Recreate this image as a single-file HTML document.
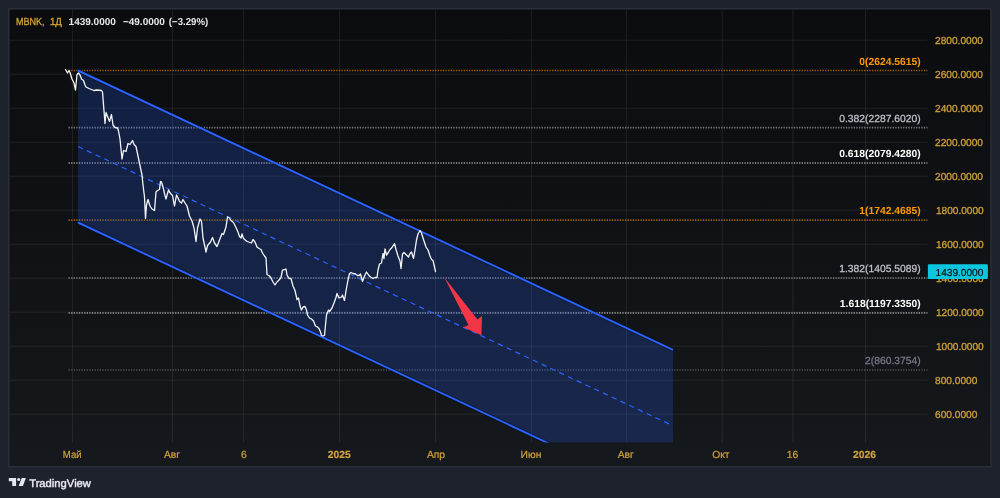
<!DOCTYPE html>
<html><head><meta charset="utf-8"><title>MBNK chart</title>
<style>
html,body{margin:0;padding:0;background:#1e222d;width:1000px;height:498px;overflow:hidden;font-family:"Liberation Sans",sans-serif;}
</style></head><body>
<svg width="1000" height="498" viewBox="0 0 1000 498" style="display:block;position:absolute;left:0;top:0;will-change:transform;text-rendering:geometricPrecision">
<defs><linearGradient id="bg" x1="0" y1="0" x2="0" y2="1"><stop offset="0" stop-color="#0a0c0e"/><stop offset="1" stop-color="#15181c"/></linearGradient>
<clipPath id="plot"><rect x="9.5" y="9.5" width="918.0" height="433.0"/></clipPath></defs>
<rect x="0" y="0" width="1000" height="498" fill="#1e222d"/>
<rect x="8.75" y="8.75" width="982.25" height="458" fill="url(#bg)" stroke="#2a2e39" stroke-width="1.5"/>
<g stroke="#ffffff" stroke-opacity="0.08" stroke-width="1" fill="none">
<path d="M9.5 40.20H927.5"/>
<path d="M9.5 74.20H927.5"/>
<path d="M9.5 108.20H927.5"/>
<path d="M9.5 142.20H927.5"/>
<path d="M9.5 176.20H927.5"/>
<path d="M9.5 210.20H927.5"/>
<path d="M9.5 244.20H927.5"/>
<path d="M9.5 278.20H927.5"/>
<path d="M9.5 312.20H927.5"/>
<path d="M9.5 346.20H927.5"/>
<path d="M9.5 380.20H927.5"/>
<path d="M9.5 414.20H927.5"/>
<path d="M72.6 9.5V442.5"/>
<path d="M172.5 9.5V442.5"/>
<path d="M243.7 9.5V442.5"/>
<path d="M339.5 9.5V442.5"/>
<path d="M435.5 9.5V442.5"/>
<path d="M531.4 9.5V442.5"/>
<path d="M626.4 9.5V442.5"/>
<path d="M722.2 9.5V442.5"/>
<path d="M793 9.5V442.5"/>
<path d="M865.5 9.5V442.5"/>
</g>
<path d="M68.5 70.50H927.5" stroke="#ff9800" stroke-width="1.6" stroke-dasharray="1.3 1.3" stroke-opacity="0.6" fill="none"/>
<path d="M68.5 127.60H927.5" stroke="#c2c4cc" stroke-width="1.6" stroke-dasharray="1.3 1.3" stroke-opacity="0.58" fill="none"/>
<path d="M68.5 163.00H927.5" stroke="#ffffff" stroke-width="1.6" stroke-dasharray="1.3 1.3" stroke-opacity="0.58" fill="none"/>
<path d="M68.5 220.10H927.5" stroke="#ff9800" stroke-width="1.6" stroke-dasharray="1.3 1.3" stroke-opacity="0.6" fill="none"/>
<path d="M68.5 278.00H927.5" stroke="#c2c4cc" stroke-width="1.6" stroke-dasharray="1.3 1.3" stroke-opacity="0.58" fill="none"/>
<path d="M68.5 313.00H927.5" stroke="#ffffff" stroke-width="1.6" stroke-dasharray="1.3 1.3" stroke-opacity="0.58" fill="none"/>
<path d="M68.5 370.00H927.5" stroke="#787b86" stroke-width="1.6" stroke-dasharray="1.3 1.3" stroke-opacity="0.58" fill="none"/>
<g clip-path="url(#plot)">
<polygon points="78,70.5 673,349.79 673,501.79 78,222.5" fill="#2962ff" fill-opacity="0.21"/>
<path d="M78 146.5L673 425.79" stroke="#2962ff" stroke-width="1.2" stroke-dasharray="5.3 4.365" fill="none"/>
<path d="M78 70.5L673 349.79M78 222.5L673 501.79" stroke="#000" stroke-opacity="0.4" stroke-width="3.6" fill="none"/>
<path d="M78 70.5L673 349.79M78 222.5L673 501.79" stroke="#2962ff" stroke-width="1.95" fill="none"/>
</g>
<polyline points="65.5,69.5 67.5,73 69,70.5 70,72.5 72,79 74,83 75.5,90 77,74.5 78.5,73 80,75 81.5,79 83.5,80.5 85,85 86,87 89,88.5 94,90.5 97,90 101.5,90.5 102.5,92 105,123.5 106,112.5 109.5,121.5 111.5,114.5 113,125 115,127.5 117.5,128 118.5,131 120,139 122,159 123.5,150.5 126,151.5 128,143.5 130,144.5 132.5,140.5 134,144.5 136,146.5 138,156 140.5,168 142,175 143,185 144.5,197 145.5,218.5 146.5,205 148,199.5 150,206 152,209 154.5,210.5 156,192 157.5,190.5 159.5,189.5 160.5,181.5 161.5,182 163,187 165,195.5 166,199 168.5,190 169.5,192 171,194 172.5,195.5 174.5,206 176.5,195 178,198 179.5,201.5 181.5,203 183,199.5 185,203 187,206 188.5,212 189.5,216 192,221 194,228 196,241.5 197.5,228 200,219 201.5,221.5 203,238 206,252 207.5,245.5 210.5,242 212.5,237.5 214.5,243 217,246.5 219.5,240 222,233.5 223.5,234.5 226,227 227.5,217 229,217.5 231,220.5 233.5,222.5 236,227.5 238,232 239.5,236.5 241,238 242,234 243.5,238.5 247,241.5 251.5,243 253,239.5 255,242 257,247 259,248.5 261,249.5 262.5,253 264.5,256 266,258 267,274.5 269.5,276 271,278 273,282 275,285 277,282 279.5,279.5 281,277.5 282.5,270 286,269 287,275 289,278.5 291,278.5 293,286 295,290.5 297,299.5 298.5,298 300,306 301.5,310 303,307 305,306.5 306.5,310 307.5,315 309.5,318 311.5,319 313.5,321 315.5,326 317.5,327 319,328.5 320.5,332 321.5,335.5 323,336 324.5,335.5 325.5,325 326.5,315 328.5,310 329.5,311.5 332,308 334,303 336,297.5 337,293.5 339,298 341.5,297 342.5,295 344.5,300.5 346,291 348,280 349.5,273.5 351,272.5 353,273.5 355.5,274 357.5,275.5 359,275.5 360.5,274 362.5,281.5 364.5,276 366.5,272 368.5,275 370.5,277 373,278.5 375,277.5 377,277.5 378,270 379.5,264 381.5,263 383,253.5 384,258.5 385,249 386.5,255 388,253 390,249.5 392,247.5 394.5,243.5 396,249.5 398,256 400,261 401,268.5 402.5,254 404,252.5 406,254.5 408.5,257 410,253.5 411.5,252 413.5,258.5 415,250 416.5,240 418,234 420,230.5 421.5,233 423.5,239.5 426,247 428,250 430,256 431.5,259.5 433,260.5 435.5,271.5" fill="none" stroke="#f4f5f8" stroke-width="1.3" stroke-linejoin="round" stroke-linecap="round"/>
<polygon points="444.2,277.2 477.5,319.5 482,316 481.4,335.3 463.3,327.2 468.5,325" fill="#f23645"/>
<g opacity="0.999">
<g font-family="Liberation Sans, sans-serif" font-size="10.3" text-anchor="end">
<text x="920.6" y="64.60" fill="#ff9800" font-weight="bold">0(2624.5615)</text>
<text x="920.6" y="121.70" fill="#c2c4cc" stroke="#c2c4cc" stroke-width="0.25">0.382(2287.6020)</text>
<text x="920.6" y="157.10" fill="#ffffff" font-weight="bold">0.618(2079.4280)</text>
<text x="920.6" y="214.20" fill="#ff9800" font-weight="bold">1(1742.4685)</text>
<text x="920.6" y="272.10" fill="#c2c4cc" stroke="#c2c4cc" stroke-width="0.25">1.382(1405.5089)</text>
<text x="920.6" y="307.10" fill="#ffffff" font-weight="bold">1.618(1197.3350)</text>
<text x="920.6" y="364.10" fill="#787b86" stroke="#787b86" stroke-width="0.25">2(860.3754)</text>
</g>
<g font-family="Liberation Sans, sans-serif" font-size="10.15" fill="#cfa038" stroke="#cfa038" stroke-width="0.3">
<text x="935.1" y="43.55">2800.0000</text>
<text x="935.1" y="77.55">2600.0000</text>
<text x="935.1" y="111.55">2400.0000</text>
<text x="935.1" y="145.55">2200.0000</text>
<text x="935.1" y="179.55">2000.0000</text>
<text x="935.9" y="213.55">1800.0000</text>
<text x="935.9" y="247.55">1600.0000</text>
<text x="935.9" y="281.55">1400.0000</text>
<text x="935.9" y="315.55">1200.0000</text>
<text x="935.9" y="349.55">1000.0000</text>
<text x="935.1" y="383.55">800.0000</text>
<text x="935.1" y="417.55">600.0000</text>
</g>
<rect x="927.9" y="264.3" width="60" height="14.8" rx="1" fill="#0ac6de"/>
<text x="983.4" y="275.9" text-anchor="end" font-family="Liberation Sans, sans-serif" font-size="10.15" fill="#0c0e15" stroke="#0c0e15" stroke-width="0.2">1439.0000</text>
<g font-family="Liberation Sans, sans-serif" font-size="10.3" fill="#cfa038" stroke="#cfa038" stroke-width="0.22" text-anchor="middle">
<text x="72.2" y="458.45" textLength="18.7" lengthAdjust="spacingAndGlyphs">Май</text>
<text x="172" y="458.45">Авг</text>
<text x="243.8" y="458.45">6</text>
<text x="339.2" y="458.45" font-weight="bold">2025</text>
<text x="436" y="458.45">Апр</text>
<text x="531" y="458.45">Июн</text>
<text x="625.8" y="458.45">Авг</text>
<text x="720.9" y="458.45">Окт</text>
<text x="792.5" y="458.45">16</text>
<text x="864.5" y="458.45" font-weight="bold">2026</text>
</g>
<g font-family="Liberation Sans, sans-serif" font-size="10">
<text x="15.9" y="25.25" font-size="10.3" fill="#cfa038" stroke="#cfa038" stroke-width="0.35" textLength="28.6" lengthAdjust="spacingAndGlyphs">MBNK,</text>
<text x="49.9" y="25.25" font-size="10.3" fill="#cfa038" stroke="#cfa038" stroke-width="0.35" textLength="12" lengthAdjust="spacingAndGlyphs">1Д</text>
<text x="68.6" y="25.3" fill="#e8e9ed" font-weight="bold">1439.0000</text>
<text x="122.9" y="25.25" fill="#e8e9ed" font-weight="bold">−49.0000</text>
<text x="168.8" y="25.25" fill="#e8e9ed" font-weight="bold" textLength="39.4" lengthAdjust="spacingAndGlyphs">(−3.29%)</text>
</g>
<g fill="#e6e8ef">
<path d="M8.8 478H16.1V486H12.2V481.2H8.8Z"/>
<circle cx="18.7" cy="479.5" r="1.55"/>
<path d="M21.7 478H25.9L22.9 486H18.7Z"/>
<text x="29.2" y="486.6" font-family="Liberation Sans, sans-serif" font-size="11" textLength="61.8" lengthAdjust="spacingAndGlyphs" stroke="#e6e8ef" stroke-width="0.42">TradingView</text>
</g>
</g>
</svg>
</body></html>
